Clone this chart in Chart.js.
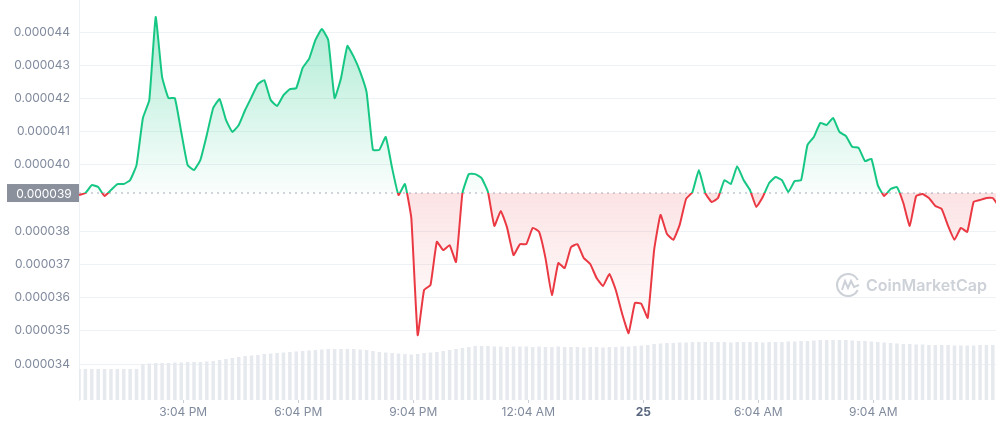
<!DOCTYPE html>
<html>
<head>
<meta charset="utf-8">
<title>Price chart</title>
<script src="https://cdn.jsdelivr.net/npm/chart.js@4/dist/chart.umd.min.js"></script>
<style>
    html, body { margin: 0; padding: 0; background: #fff; }
    #wrap { position: relative; width: 996px; height: 425px; }
</style>
</head>
<body>
<div id="wrap"><canvas id="mainChart"></canvas></div>
<script>
// One point every 10 minutes, starting 12:21 PM
const stepMinutes = 10;

const prices = [
    3.909e-5, 3.915e-5, 3.939e-5, 3.933e-5, 3.906e-5, 3.924e-5, 3.942e-5, 3.942e-5, 3.954e-5, 3.999e-5,
    4.141e-5, 4.195e-5, 4.445e-5, 4.265e-5, 4.201e-5, 4.201e-5, 4.099e-5, 3.999e-5, 3.984e-5, 4.015e-5,
    4.090e-5, 4.171e-5, 4.198e-5, 4.135e-5, 4.099e-5, 4.120e-5, 4.165e-5, 4.204e-5, 4.243e-5, 4.255e-5,
    4.195e-5, 4.177e-5, 4.210e-5, 4.228e-5, 4.231e-5, 4.292e-5, 4.319e-5, 4.376e-5, 4.409e-5, 4.376e-5,
    4.201e-5, 4.261e-5, 4.358e-5, 4.325e-5, 4.280e-5, 4.219e-5, 4.045e-5, 4.045e-5, 4.084e-5, 3.990e-5,
    3.909e-5, 3.942e-5, 3.840e-5, 3.487e-5, 3.623e-5, 3.638e-5, 3.768e-5, 3.743e-5, 3.758e-5, 3.707e-5,
    3.915e-5, 3.972e-5, 3.972e-5, 3.960e-5, 3.918e-5, 3.816e-5, 3.861e-5, 3.810e-5, 3.728e-5, 3.761e-5,
    3.761e-5, 3.810e-5, 3.798e-5, 3.719e-5, 3.608e-5, 3.704e-5, 3.689e-5, 3.752e-5, 3.761e-5, 3.719e-5,
    3.701e-5, 3.659e-5, 3.635e-5, 3.671e-5, 3.623e-5, 3.551e-5, 3.493e-5, 3.584e-5, 3.581e-5, 3.539e-5,
    3.743e-5, 3.849e-5, 3.792e-5, 3.774e-5, 3.819e-5, 3.897e-5, 3.918e-5, 3.984e-5, 3.915e-5, 3.888e-5,
    3.900e-5, 3.954e-5, 3.942e-5, 3.996e-5, 3.954e-5, 3.924e-5, 3.873e-5, 3.903e-5, 3.945e-5, 3.963e-5,
    3.954e-5, 3.918e-5, 3.951e-5, 3.954e-5, 4.060e-5, 4.084e-5, 4.126e-5, 4.120e-5, 4.141e-5, 4.099e-5,
    4.087e-5, 4.054e-5, 4.051e-5, 4.011e-5, 4.018e-5, 3.939e-5, 3.906e-5, 3.927e-5, 3.933e-5, 3.885e-5,
    3.816e-5, 3.906e-5, 3.912e-5, 3.900e-5, 3.876e-5, 3.867e-5, 3.816e-5, 3.774e-5, 3.810e-5, 3.798e-5,
    3.888e-5, 3.894e-5, 3.900e-5, 3.900e-5, 3.873e-5
];

// traded volume per interval (millions)
const volumes = [
    3.1, 3.1, 3.1, 3.1, 3.1, 3.1, 3.1, 3.1, 3.1, 3.1,
    3.6, 3.65, 3.7, 3.7, 3.7, 3.75, 3.75, 3.8, 3.8, 3.8,
    3.85, 3.9, 4.0, 4.1, 4.2, 4.3, 4.4, 4.45, 4.5, 4.6,
    4.65, 4.7, 4.75, 4.8, 4.85, 4.9, 4.95, 5.0, 5.05, 5.1,
    5.1, 5.1, 5.1, 5.1, 5.05, 5.0, 4.9, 4.8, 4.75, 4.7,
    4.65, 4.6, 4.55, 4.6, 4.7, 4.75, 4.8, 4.9, 5.0, 5.1,
    5.2, 5.3, 5.4, 5.4, 5.4, 5.35, 5.35, 5.3, 5.35, 5.35,
    5.35, 5.3, 5.35, 5.3, 5.3, 5.35, 5.3, 5.3, 5.3, 5.25,
    5.3, 5.3, 5.25, 5.3, 5.3, 5.35, 5.35, 5.4, 5.45, 5.5,
    5.6, 5.65, 5.7, 5.7, 5.75, 5.75, 5.8, 5.8, 5.8, 5.8,
    5.8, 5.8, 5.75, 5.8, 5.8, 5.8, 5.8, 5.75, 5.8, 5.8,
    5.8, 5.85, 5.85, 5.9, 5.9, 5.95, 6.0, 6.0, 6.0, 6.0,
    6.0, 5.95, 5.9, 5.9, 5.85, 5.8, 5.75, 5.7, 5.65, 5.6,
    5.6, 5.55, 5.55, 5.5, 5.5, 5.5, 5.5, 5.45, 5.45, 5.45,
    5.45, 5.5, 5.5, 5.5, 5.5
];

const baselinePrice = 3.915e-5;
const baselineLabel = '0.000039';

const yTickValues = [3.4e-5, 3.5e-5, 3.6e-5, 3.7e-5, 3.8e-5, 3.9e-5, 4.0e-5, 4.1e-5, 4.2e-5, 4.3e-5, 4.4e-5];
const xTickMinutes = [163, 343, 523, 703, 883, 1063, 1243];
const xTickLabels = ['3:04 PM', '6:04 PM', '9:04 PM', '12:04 AM', '25', '6:04 AM', '9:04 AM'];

const GREEN = '#16c784';
const RED = '#ea3943';
const GRAY_TEXT = '#808a9d';

function baselineFrac(chart) {
    const area = chart.chartArea;
    const yPix = chart.scales.y.getPixelForValue(baselinePrice);
    return Math.min(1, Math.max(0, (yPix - area.top) / (area.bottom - area.top)));
}

function lineGradient(context) {
    const chart = context.chart;
    const area = chart.chartArea;
    if (!area) return GREEN;
    const f = baselineFrac(chart);
    const g = chart.ctx.createLinearGradient(0, area.top, 0, area.bottom);
    g.addColorStop(0, GREEN);
    g.addColorStop(f, GREEN);
    g.addColorStop(f, RED);
    g.addColorStop(1, RED);
    return g;
}

function fillGradient(context) {
    const chart = context.chart;
    const area = chart.chartArea;
    if (!area) return 'rgba(22,199,132,0.1)';
    const f = baselineFrac(chart);
    const g = chart.ctx.createLinearGradient(0, area.top, 0, area.bottom);
    g.addColorStop(0, 'rgba(22,199,132,0.38)');
    g.addColorStop(f, 'rgba(22,199,132,0.02)');
    g.addColorStop(f, 'rgba(234,57,67,0.14)');
    g.addColorStop(Math.min(1, f + 0.36), 'rgba(234,57,67,0.0)');
    g.addColorStop(1, 'rgba(234,57,67,0.0)');
    return g;
}

// dotted baseline, boxed label and watermark
const decorPlugin = {
    id: 'decor',
    beforeDatasetsDraw(chart) {
        const { ctx, chartArea } = chart;
        const yPix = chart.scales.y.getPixelForValue(baselinePrice);
        ctx.save();
        ctx.strokeStyle = '#a6adba';
        ctx.lineWidth = 1;
        ctx.setLineDash([2, 4]);
        ctx.beginPath();
        ctx.moveTo(chartArea.left, yPix);
        ctx.lineTo(chartArea.right, yPix);
        ctx.stroke();
        ctx.setLineDash([]);

        // CoinMarketCap watermark
        const cx = 848, cy = 285;
        ctx.strokeStyle = '#cdd1d8';
        ctx.lineWidth = 2;
        ctx.beginPath();
        ctx.arc(cx, cy, 11, 0.15 * Math.PI, 1.85 * Math.PI, false);
        ctx.stroke();
        ctx.beginPath();
        ctx.moveTo(cx - 6, cy + 5);
        ctx.lineTo(cx - 3, cy - 4);
        ctx.lineTo(cx, cy + 3);
        ctx.lineTo(cx + 3, cy - 4);
        ctx.lineTo(cx + 6, cy + 2);
        ctx.lineTo(cx + 11, cy);
        ctx.stroke();
        ctx.fillStyle = '#cdd1d8';
        ctx.font = '600 16px Inter';
        ctx.textBaseline = 'middle';
        ctx.textAlign = 'left';
        ctx.fillText('CoinMarketCap', 866, cy + 1);
        ctx.restore();
    },
    afterDraw(chart) {
        const { ctx, chartArea } = chart;
        const yPix = chart.scales.y.getPixelForValue(baselinePrice);
        ctx.save();
        ctx.fillStyle = '#8a909c';
        ctx.fillRect(7, yPix - 9, chartArea.left - 7, 18);
        ctx.fillStyle = '#ffffff';
        ctx.font = '12px Inter';
        ctx.textAlign = 'center';
        ctx.textBaseline = 'middle';
        ctx.fillText(baselineLabel, (7 + chartArea.left) / 2 + 1, yPix + 1);
        ctx.restore();
    }
};

const linePoints = prices.map((p, i) => ({ x: i * stepMinutes, y: p }));
const volumePoints = volumes.map((v, i) => ({ x: i * stepMinutes, y: v }));

const ctx = document.getElementById('mainChart').getContext('2d');
new Chart(ctx, {
    type: 'line',
    data: {
        datasets: [{
            type: 'line',
            label: 'Price',
            data: linePoints,
            borderColor: lineGradient,
            backgroundColor: fillGradient,
            borderWidth: 2,
            borderJoinStyle: 'round',
            tension: 0.12,
            pointRadius: 0,
            fill: { value: baselinePrice },
            yAxisID: 'y',
            order: 0
        }, {
            type: 'bar',
            label: 'Volume',
            data: volumePoints,
            backgroundColor: '#e6e9ee',
            barPercentage: 0.55,
            categoryPercentage: 1,
            yAxisID: 'yVol',
            order: 1
        }]
    },
    options: {
        responsive: true,
        maintainAspectRatio: false,
        animation: false,
        layout: { padding: 0 },
        plugins: {
            legend: { display: false },
            tooltip: { enabled: false }
        },
        scales: {
            x: {
                type: 'linear',
                offset: false,
                min: 0,
                max: 1435,
                afterBuildTicks: (scale) => {
                    scale.ticks = xTickMinutes.map(v => ({ value: v }));
                },
                afterFit: (scale) => {
                    scale.height = 25;
                    scale.paddingLeft = 0;
                    scale.paddingRight = 0;
                },
                grid: {
                    offset: false,
                    drawOnChartArea: false,
                    drawTicks: true,
                    tickLength: 3,
                    color: '#c9ced6'
                },
                border: { display: false },
                ticks: {
                    maxRotation: 0,
                    autoSkip: false,
                    padding: 2,
                    callback: (value, index) => xTickLabels[index],
                    color: (c) => xTickLabels[c.index] === '25' ? '#58667e' : GRAY_TEXT,
                    font: (c) => ({
                        family: 'Inter',
                        size: 12,
                        weight: xTickLabels[c.index] === '25' ? 'bold' : 'normal'
                    })
                }
            },
            y: {
                type: 'linear',
                position: 'left',
                min: 3.2916e-5,
                max: 4.4964e-5,
                afterBuildTicks: (scale) => {
                    scale.ticks = yTickValues.map(v => ({ value: v }));
                },
                afterFit: (scale) => {
                    scale.width = 79;
                    scale.paddingTop = 0;
                    scale.paddingBottom = 0;
                },
                grid: {
                    color: (c) => (c.tick && Math.abs(c.tick.value - 3.9e-5) < 1e-9) ? 'rgba(0,0,0,0)' : '#eff2f5',
                    drawTicks: false
                },
                border: { display: true, color: '#eff2f5' },
                ticks: {
                    padding: 9,
                    color: GRAY_TEXT,
                    font: { family: 'Inter', size: 12 },
                    callback: (value) => Math.abs(value - 3.9e-5) < 1e-9 ? '' : value.toFixed(6)
                }
            },
            yVol: {
                type: 'linear',
                display: false,
                min: 0,
                max: 40
            }
        }
    },
    plugins: [decorPlugin]
});
</script>
</body>
</html>
